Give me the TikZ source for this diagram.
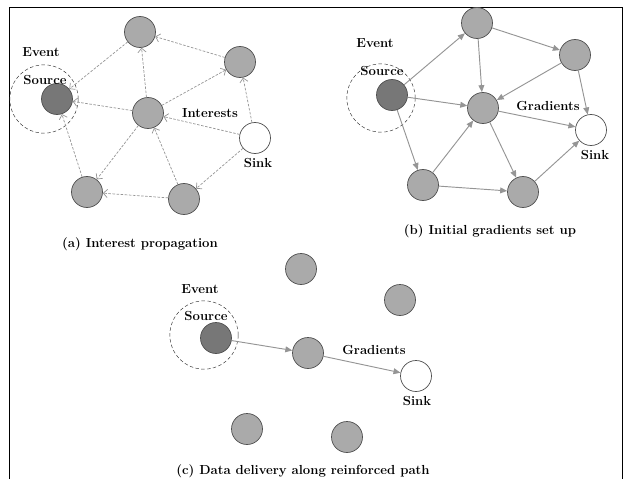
\documentclass[tikz,border=0pt]{standalone}
\usepackage{tikz}
\usetikzlibrary{positioning, arrows.meta}
\definecolor{nodegray}{HTML}{AAAAAA}
\definecolor{srcgray}{HTML}{777777}
\definecolor{rimgray}{HTML}{505050}
\definecolor{linkgray}{HTML}{959595}
\tikzset{x=0.03cm, y=-0.03cm, % one unit is one pixel of the sheet
every node/.style={font=\fontsize{11.2}{13}\bfseries},
sensor/.style={ % Ordinary nodes of the field
circle, draw=rimgray, semithick, fill=nodegray,
minimum size=0.93cm, inner sep=0pt},
source/.style={sensor, fill=srcgray},
sink/.style={sensor, fill=white},
region/.style={ % Dashed ring round the event
circle, draw=black!80, densely dashed, thin, minimum size=2.05cm, inner sep=0pt},
interest/.style={ % Dashed links for the flooded interests
draw=linkgray, -{Straight Barb[length=3.5pt,width=7pt]}, line width=0.6pt,
dash pattern=on 2.2pt off 1.3pt},
gradient/.style={ % Solid links for gradients
draw=linkgray, -{Triangle[length=6pt,width=5pt]}, line width=0.8pt}}

\begin{document}
\begin{tikzpicture}

    \useasboundingbox (0,0) rectangle (623,479);
    \draw[thin] (9,479) -- (9,7) -- (622,7) -- (622,479);

    % (a) interest propagation
    \node[region] (ra) at (44,99) {};
    \node[source] (sa) at (57,99) {};
    \node[sensor] (a1) at (140,32) {};
    \node[sensor] (a2) at (240,62) {};
    \node[sensor] (a3) at (148,113) {};
    \node[sink] (ka) at (255,138) {};
    \node[sensor] (a4) at (87,192) {};
    \node[sensor] (a5) at (184,199) {};
    \node (eva) at (41,52) {Event};
    \node (soa) at (45,80) {Source};
    \node (ina) at (210,113) {Interests};
    \node (sia) at (258,163) {Sink};
    \node (capa) at (140,244) {(a) Interest propagation};

    \draw[interest] (a3) -- (a1);
    \draw[interest] (a1) -- (sa);
    \draw[interest] (a2) -- (a1);
    \draw[interest] (a3) -- (a2);
    \draw[interest] (ka) -- (a2);
    \draw[interest] (a3) -- (sa);
    \draw[interest] (ka) -- (a3);
    \draw[interest] (a3) -- (a4);
    \draw[interest] (a4) -- (sa);
    \draw[interest] (a5) -- (a3);
    \draw[interest] (a5) -- (a4);
    \draw[interest] (ka) -- (a5);

    % (b) initial gradients set up
    \node[region] (rb) at (381,98) {};
    \node[source] (sb) at (392,95) {};
    \node[sensor] (b1) at (477,23) {};
    \node[sensor] (b2) at (575,55) {};
    \node[sensor] (b3) at (483,108) {};
    \node[sink] (kb) at (591,130) {};
    \node[sensor] (b4) at (423,185) {};
    \node[sensor] (b5) at (523,192) {};
    \node (evb) at (375,43) {Event};
    \node (sob) at (382,71) {Source};
    \node (grb) at (548,106) {Gradients};
    \node (sib) at (595,155) {Sink};
    \node (capb) at (490,231) {(b) Initial gradients set up};

    \draw[gradient] (sb) -- (b1);
    \draw[gradient] (sb) -- (b3);
    \draw[gradient] (sb) -- (b4);
    \draw[gradient] (b1) -- (b2);
    \draw[gradient] (b1) -- (b3);
    \draw[gradient] (b2) -- (b3);
    \draw[gradient] (b2) -- (kb);
    \draw[gradient] (b3) -- (kb);
    \draw[gradient] (b3) -- (b5);
    \draw[gradient] (b4) -- (b3);
    \draw[gradient] (b4) -- (b5);
    \draw[gradient] (b5) -- (kb);

    % (c) data delivery along reinforced path
    \node[region] (rc) at (204,335) {};
    \node[source] (sc) at (216,338) {};
    \node[sensor] (c1) at (301,269) {};
    \node[sensor] (c2) at (400,300) {};
    \node[sensor] (c3) at (308,353) {};
    \node[sink] (kc) at (416,376) {};
    \node[sensor] (c4) at (247,429) {};
    \node[sensor] (c5) at (347,437) {};
    \node (evc) at (200,289) {Event};
    \node (soc) at (206,316) {Source};
    \node (grc) at (374,350) {Gradients};
    \node (sic) at (417,401) {Sink};
    \node (capc) at (303,471) {(c) Data delivery along reinforced path};

    \draw[gradient] (sc) -- (c3);
    \draw[gradient] (c3) -- (kc);

\end{tikzpicture}
\end{document}
